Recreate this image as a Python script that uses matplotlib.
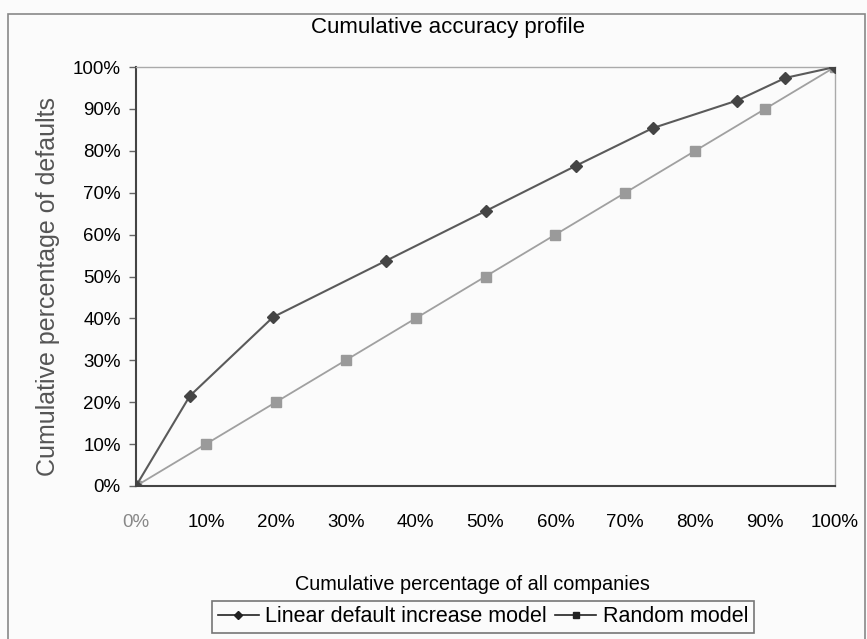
import matplotlib as mpl
import numpy as np
from matplotlib import pyplot as plt
from matplotlib.patches import Rectangle
from matplotlib.ticker import PercentFormatter

plt.rcParams['font.family'] = ['Liberation Sans', 'DejaVu Sans']

# cumulative share of companies (x) vs cumulative share of defaults (y)
linear_x = [0.0, 0.077, 0.196, 0.357, 0.50, 0.629, 0.739, 0.86, 0.929, 1.0]
linear_y = [0.0, 0.215, 0.403, 0.537, 0.656, 0.764, 0.854, 0.92, 0.974, 1.0]
random_x = [0.0, 0.1, 0.2, 0.3, 0.4, 0.5, 0.6, 0.7, 0.8, 0.9, 1.0]
random_y = [0.0, 0.1, 0.2, 0.3, 0.4, 0.5, 0.6, 0.7, 0.8, 0.9, 1.0]
ticks = [0.0, 0.1, 0.2, 0.3, 0.4, 0.5, 0.6, 0.7, 0.8, 0.9, 1.0]

fig = plt.figure(figsize=(8.67, 6.39), dpi=100, facecolor='#fbfbfb')
fig.patches.append(Rectangle((8/867, -0.01), 857/867, 1 - 14/639 + 0.01,
                             transform=fig.transFigure, fill=False,
                             edgecolor='#888888', linewidth=1.2))

ax = fig.add_axes([136/867, 1 - 486/639, 699/867, 419/639])
ax.set_facecolor('#fbfbfb')

ax.plot(random_x, random_y, '-', color='#a0a0a0', linewidth=1.3,
        marker='s', markersize=7, markerfacecolor='#9a9a9a', markeredgecolor='#9a9a9a',
        label='Random model', zorder=2)
ax.plot(linear_x, linear_y, '-', color='#5a5a5a', linewidth=1.5,
        marker='D', markersize=6, markerfacecolor='#444444', markeredgecolor='#444444',
        label='Linear default increase model', zorder=3)

ax.set_xlim(0, 1)
ax.set_ylim(0, 1)
ax.set_xticks(ticks)
ax.set_yticks(ticks)
ax.xaxis.set_major_formatter(PercentFormatter(1.0, decimals=0))
ax.yaxis.set_major_formatter(PercentFormatter(1.0, decimals=0))
ax.tick_params(axis='y', length=5, width=1, color='#666666', labelsize=13.5, pad=6)
ax.tick_params(axis='x', length=0, labelsize=13.5, pad=20)
ax.get_xticklabels()[0].set_color('#888888')

for side in ['top', 'right']:
    ax.spines[side].set_color('#aaaaaa')
    ax.spines[side].set_linewidth(1.0)
for side in ['left', 'bottom']:
    ax.spines[side].set_color('#444444')
    ax.spines[side].set_linewidth(1.5)

fig.text(448/867, 1 - 27/639, 'Cumulative accuracy profile', ha='center', va='center',
         fontsize=16)
fig.text(48/867, 1 - 287/639, 'Cumulative percentage of defaults', rotation=90,
         ha='center', va='center', fontsize=18, color='#555555')
fig.text(472/867, 1 - 584/639, 'Cumulative percentage of all companies',
         ha='center', va='center', fontsize=14.3)

handles, labels = ax.get_legend_handles_labels()
leg = fig.legend(handles[::-1], labels[::-1], loc='center', ncol=2,
                 bbox_to_anchor=(483/867, 1 - 617/639), fontsize=15.5,
                 frameon=True, fancybox=False, edgecolor='#555555',
                 handlelength=1.9, handletextpad=0.3, columnspacing=0.4,
                 borderpad=0.25)
leg.get_frame().set_linewidth(1.2)
leg.get_frame().set_facecolor('#fbfbfb')
for h in leg.legend_handles:
    h.set_color('#222222')
    h.set_markerfacecolor('#222222')
    h.set_markeredgecolor('#222222')
    h.set_markersize(4.5)
    h.set_linewidth(1.2)

fig.savefig('out.png', dpi=100, facecolor=fig.get_facecolor())
